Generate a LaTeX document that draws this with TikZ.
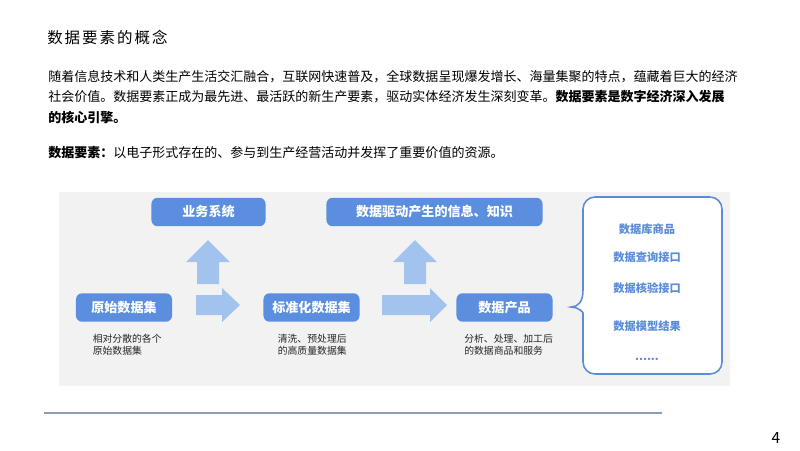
\documentclass[tikz,border=0pt]{standalone}
\usepackage{fontspec}
\setmainfont{Noto Sans CJK SC}
\usetikzlibrary{positioning}

\definecolor{boxblue}{HTML}{5B8EDE}
\definecolor{itemblue}{HTML}{5A8CDA}
\definecolor{arrowblue}{HTML}{A2C3EE}
\definecolor{panelgray}{HTML}{F2F2F3}
\definecolor{rulegray}{HTML}{8E9CB5}

\begin{document}
\begin{tikzpicture}[
  x=0.025cm, y=-0.025cm,
  stage/.style={rectangle, rounded corners=0.15cm, fill=boxblue, text=white,
                inner sep=0pt, minimum height=0.71cm,
                font=\fontsize{9.3}{11}\selectfont\bfseries},
  note/.style={anchor=west, align=left, inner sep=0pt,
               font=\fontsize{7}{8.6}\selectfont, text=black!85},
  para/.style={anchor=west, inner sep=0pt, font=\fontsize{9.25}{12}\selectfont},
  item/.style={inner sep=0pt, text=itemblue, font=\fontsize{8}{10}\selectfont\bfseries},
  bigarrow/.style={fill=arrowblue}
]
  \useasboundingbox (0,0) rectangle (800,450);

  % heading and text
  \node[para, font=\fontsize{11}{13}\selectfont\addfontfeature{LetterSpace=13}] (title) at (47,37.5) {数据要素的概念};
  \node[para] (line1) at (48,77) {随着信息技术和人类生产生活交汇融合，互联网快速普及，全球数据呈现爆发增长、海量集聚的特点，蕴藏着巨大的经济};
  \node[para] (line2) at (48,97) {社会价值。数据要素正成为最先进、最活跃的新生产要素，驱动实体经济发生深刻变革。\textbf{数据要素是数字经济深入发展}};
  \node[para] (line3) at (48,117) {\textbf{的核心引擎。}};
  \node[para] (def) at (48,153) {\textbf{数据要素：}以电子形式存在的、参与到生产经营活动并发挥了重要价值的资源。};

  % panel
  \fill[panelgray] (59,192) rectangle (730,386);

  % stages
  \node[stage, minimum width=2.85cm] (biz) at (208.5,212) {业务系统};
  \node[stage, minimum width=5.4cm] (info) at (434.5,212) {数据驱动产生的信息、知识};
  \node[stage, minimum width=2.4cm] (raw) at (124,307.5) {原始数据集};
  \node[stage, minimum width=2.4cm] (std) at (311.5,307.5) {标准化数据集};
  \node[stage, minimum width=2.4cm] (prod) at (504.5,307.5) {数据产品};

  \node[note] (rawnote) at (92.5,344.5) {相对分散的各个\\原始数据集};
  \node[note] (stdnote) at (277.5,344.5) {清洗、预处理后\\的高质量数据集};
  \node[note] (prodnote) at (464,344.5) {分析、处理、加工后\\的数据商品和服务};

  % block arrows
  \fill[bigarrow] (197,284) -- (197,262) -- (186,262) -- (208,240) -- (230,262) -- (219,262) -- (219,284) -- cycle;
  \fill[bigarrow] (196,295) -- (222,295) -- (222,288) -- (240,305) -- (222,322) -- (222,315) -- (196,315) -- cycle;
  \fill[bigarrow] (404,284) -- (404,262) -- (393,262) -- (415,240) -- (437,262) -- (426,262) -- (426,284) -- cycle;
  \fill[bigarrow] (382,295) -- (430,295) -- (430,288) -- (447,305) -- (430,322) -- (430,315) -- (382,315) -- cycle;

  % brace box
  \draw[itemblue, line width=1.1pt, fill=white]
    (571,307) .. controls (578,307) and (583,302) .. (583,290)
    [rounded corners=0.3cm] -- (583,197) -- (722,197) -- (722,374) -- (583,374) -- (583,325)
    [sharp corners] .. controls (583,312) and (578,307) .. (571,307) -- cycle;
  \node[item] (dbgoods) at (647,229) {数据库商品};
  \node[item] (query) at (647,257) {数据查询接口};
  \node[item] (verify) at (647,288) {数据核验接口};
  \node[item] (model) at (647,326.5) {数据模型结果};
  \node[item] (more) at (647,359) {......};

  % footer
  \draw[rulegray, line width=1.5pt] (44,413) -- (662,413);
  \node[inner sep=0pt, font=\fontsize{11}{13}\selectfont] (page) at (776,438) {4};
\end{tikzpicture}
\end{document}
